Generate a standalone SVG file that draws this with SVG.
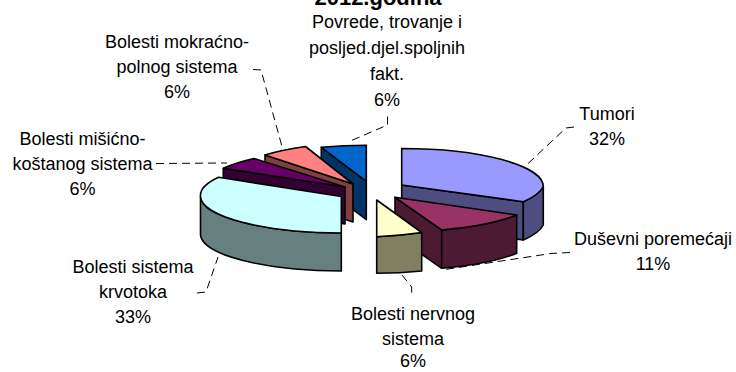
<svg xmlns="http://www.w3.org/2000/svg" width="736" height="372" viewBox="0 0 736 372">
<style>
.e{stroke:#000;stroke-width:1.6;stroke-linejoin:round}
.t{font-family:"Liberation Sans",Arial,sans-serif;font-size:18px;fill:#000;text-anchor:middle}
.ld{fill:none;stroke:#000;stroke-width:1;stroke-dasharray:8 5}
</style>
<rect width="736" height="372" fill="#fff"/>
<g id="title"><text class="t" x="378" y="5" style="font-weight:bold;font-size:22px">2012.godina</text></g>
<g id="connectors">
<path class="ld" d="M387.5,116.5 L387.5,125 L348,142"/>
<path class="ld" d="M253,69.5 L261,70 L283.5,152"/>
<path class="ld" d="M156,163.5 L227,163"/>
<path class="ld" d="M197,293 L206,292 L218,257"/>
<path class="ld" d="M402,275 L411.7,287 L411.7,297"/>
<path class="ld" d="M570,252.5 L551,253.5 L445,269.5"/>
<path class="ld" d="M574,127 L566,128 L527,164.5"/>
</g>
<g id="povrede">
<path class="e" fill="#003366" d="M321.3,147.3 L366.3,181.3 L366.3,219.7 L321.3,185.7 Z"/>
<path class="e" fill="#0066CC" d="M366.3,181.3 L321.3,147.3 A141,38 0 0 1 366.3,145.3 Z"/>
<text class="t" x="387" y="28">Povrede, trovanje i</text>
<text class="t" x="387" y="54">posljed.djel.spoljnih</text>
<text class="t" x="387" y="80">fakt.</text>
<text class="t" x="387" y="106">6%</text>
</g>
<g id="mokracno">
<path class="e" fill="#804040" d="M265,155 L353,184 L353,222 L265,193 Z"/>
<path class="e" fill="#FF8080" d="M353,184 L265,155 A141,38 0 0 1 305.5,146.5 Z"/>
<text class="t" x="177" y="48">Bolesti mokraćno-</text>
<text class="t" x="177" y="73">polnog sistema</text>
<text class="t" x="177" y="98">6%</text>
</g>
<g id="misicno">
<path class="e" fill="#330033" d="M223.3,168.3 L345,187 L345,224 L223.3,206 Z"/>
<path class="e" fill="#660066" d="M345,187 L223.3,168.3 A141,38 0 0 1 254,158.5 Z"/>
<text class="t" x="82.5" y="145">Bolesti mišićno-</text>
<text class="t" x="82.5" y="170">koštanog sistema</text>
<text class="t" x="82.5" y="195">6%</text>
</g>
<g id="tumori">
<path class="e" fill="#4D4D80" d="M401.7,185 L523.3,201.7 L523.3,240 L401.7,223.3 Z"/>
<path class="e" fill="#4D4D80" d="M523.3,201.7 A141,38 0 0 0 543.3,186.5 L543.3,225 A141,38 0 0 1 523.3,240 Z"/>
<path class="e" fill="#9999FF" d="M401.7,185 L401.7,148.5 A141,38 0 0 1 543.3,186.5 A141,38 0 0 1 523.3,201.7 Z"/>
<text class="t" x="607" y="120">Tumori</text>
<text class="t" x="607" y="145">32%</text>
</g>
<g id="krvotok">
<path class="e" fill="#668080" d="M341.3,233 A141,37 0 0 1 200.5,196.5 L200.5,235 A141,37 0 0 0 341.3,271 Z"/>
<path class="e" fill="#CCFFFF" d="M341.3,196.5 L341.3,233 A141,37 0 0 1 200.5,196.5 A141,37 0 0 1 218.5,177.3 Z"/>
<text class="t" x="133" y="273">Bolesti sistema</text>
<text class="t" x="133" y="298">krvotoka</text>
<text class="t" x="133" y="323">33%</text>
</g>
<g id="dusevni">
<path class="e" fill="#4D1A33" d="M395,197.3 L441.7,230 L441.7,268.3 L395,235.6 Z"/>
<path class="e" fill="#4D1A33" d="M516.7,215 A141,38 0 0 1 441.7,230 L441.7,268.3 A141,38 0 0 0 516.7,253.3 Z"/>
<path class="e" fill="#993366" d="M395,197.3 L516.7,215 A141,38 0 0 1 441.7,230 Z"/>
<text class="t" x="653" y="245">Duševni poremećaji</text>
<text class="t" x="653" y="270">11%</text>
</g>
<g id="nervnog">
<path class="e" fill="#808060" d="M421.7,232.5 A141,38 0 0 1 376.7,236.7 L376.7,273.3 A141,38 0 0 0 421.7,271 Z"/>
<path class="e" fill="#FFFFCC" d="M376.7,200 L421.7,232.5 A141,38 0 0 1 376.7,236.7 Z"/>
<text class="t" x="413" y="320">Bolesti nervnog</text>
<text class="t" x="413" y="345">sistema</text>
<text class="t" x="413" y="367">6%</text>
</g>
</svg>
